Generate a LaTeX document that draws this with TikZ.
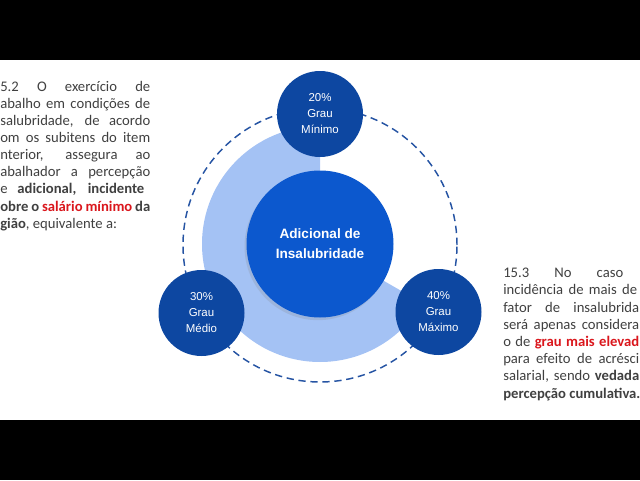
\documentclass[tikz,border=0pt]{standalone}
\usepackage{fontspec}
\setmainfont{Carlito}
\newfontfamily\circfont{Liberation Sans}
\usetikzlibrary{shadows}
\definecolor{azulescuro}{RGB}{13,71,161}
\definecolor{azulcentro}{RGB}{12,88,206}
\definecolor{azulclaro}{RGB}{164,194,244}
\definecolor{azultraco}{RGB}{38,84,163}
\definecolor{cinza}{RGB}{64,64,64}
\definecolor{vermelho}{RGB}{218,22,28}
\tikzset{grau/.style = {shape = circle, fill = azulescuro, text = white, minimum size = 64.5pt, inner sep = 0pt, align = center, font = \circfont\fontsize{8.6}{12}\selectfont}}
\tikzset{centro/.style = {shape = circle, fill = azulcentro, text = white, minimum size = 110.25pt, inner sep = 0pt, align = center, font = \circfont\bfseries\fontsize{10.2}{15}\selectfont, drop shadow = {shadow xshift = -1.5pt, shadow yshift = -2pt, opacity = 0.2}}}
\tikzset{contorno/.style = {draw = azultraco, line width = 1.1pt, dash pattern = on 5.5pt off 3.5pt}}
\tikzset{texto/.style = {anchor = base west, inner sep = 0pt, text = cinza, font = \fontsize{11}{13}\selectfont}}

\begin{document}
\begin{tikzpicture}[x = 0.75pt, y = 0.75pt]
	\useasboundingbox (0,0) rectangle (640,480);
	\fill[black] (0,420) rectangle (640,480);
	\fill[black] (0,0) rectangle (640,60);

	\fill[azulclaro] (320,236) -- ++(90:118) arc[start angle = 90, end angle = 330, radius = 118] -- cycle;
	\draw[contorno] (320,235) circle[radius = 137];

	\node[centro] (adicional) at (320,236) {Adicional de\\Insalubridade};
	\node[grau] (minimo) at (320,366) {20\%\\Grau\\Mínimo};
	\node[grau] (medio) at (201.5,167) {30\%\\Grau\\Médio};
	\node[grau] (maximo) at (438.5,168) {40\%\\Grau\\Máximo};

	\node[texto] (e1) at (0,389) {\makebox[112.5pt][s]{5.2 O exercício de}};
	\node[texto] (e2) at (0,371.85) {\makebox[112.5pt][s]{abalho em condições de}};
	\node[texto] (e3) at (0,354.7) {\makebox[112.5pt][s]{salubridade, de acordo}};
	\node[texto] (e4) at (0,337.55) {\makebox[112.5pt][s]{om os subitens do item}};
	\node[texto] (e5) at (0,320.4) {\makebox[112.5pt][s]{nterior, assegura ao}};
	\node[texto] (e6) at (0,303.25) {\makebox[112.5pt][s]{abalhador a percepção}};
	\node[texto] (e7) at (0,286.1) {\makebox[108pt][s]{e \textbf{adicional, incidente}}};
	\node[texto] (e8) at (0,268.95) {\makebox[112.5pt][s]{\textbf{obre o \textcolor{vermelho}{salário mínimo} da}}};
	\node[texto] (e9) at (0,251.8) {\textbf{gião}, equivalente a:};

	\node[texto] (d1) at (503,202.3) {\makebox[90pt][s]{15.3 No caso}};
	\node[texto] (d2) at (503,185.1) {\makebox[100.5pt][s]{incidência de mais de}};
	\node[texto] (d3) at (503,167.9) {\makebox[102pt][s]{fator de insalubrida}};
	\node[texto] (d4) at (503,150.7) {\makebox[102pt][s]{será apenas considera}};
	\node[texto] (d5) at (503,133.5) {\makebox[102pt][s]{o de \textbf{\textcolor{vermelho}{grau mais elevad}}}};
	\node[texto] (d6) at (503,116.3) {\makebox[102pt][s]{para efeito de acrésci}};
	\node[texto] (d7) at (503,99.1) {\makebox[102pt][s]{salarial, sendo \textbf{vedada}}};
	\node[texto] (d8) at (503,81.9) {\textbf{percepção cumulativa.}};
\end{tikzpicture}
\end{document}
